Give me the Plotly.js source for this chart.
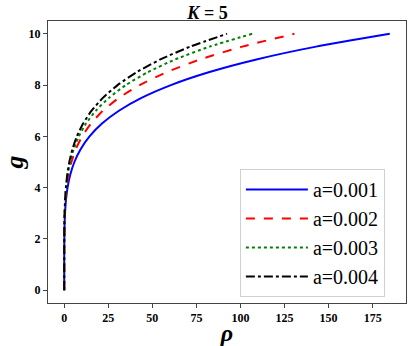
<!DOCTYPE html>
<html><head><meta charset="utf-8">
<script src="https://cdn.plot.ly/plotly-3.0.1.min.js"></script>
<style>html,body{margin:0;padding:0;background:#fff}</style>
</head><body>
<div id="chart" style="width:415px;height:346px"></div>
<script>
// g values (y) shared by all series
const gValues = [0,0.5,1,1.5,2,2.5,3,3.5,4,4.5,5,5.5,6,6.5,7,7.5,8,8.5,9,9.5,10];
// rho values (x) for each a
const rhoA001 = [0,0.00006,0.0018,0.014,0.059,0.18,0.45,0.97,1.89,3.41,5.77,9.30,14.36,21.43,31.04,43.83,60.52,81.95,109.06,142.9,184.7];
const rhoA002 = [0,0.00004,0.0013,0.0099,0.042,0.127,0.317,0.686,1.34,2.41,4.08,6.58,10.15,15.15,21.95,30.99,42.79,57.95,77.12,101.0,130.6];
const rhoA003 = [0,0.00003,0.0011,0.0081,0.034,0.104,0.259,0.56,1.09,1.97,3.33,5.37,8.29,12.37,17.92,25.31,34.94,47.32,62.97,82.5,106.6];
const rhoA004 = [0,0.00003,0.0009,0.007,0.030,0.09,0.225,0.485,0.945,1.71,2.89,4.65,7.18,10.72,15.52,21.92,30.26,40.98,54.53,71.45,92.35];
const seriesNames = ['a=0.001','a=0.002','a=0.003','a=0.004'];
const xTicks = [0,25,50,75,100,125,150,175];
const yTicks = [0,2,4,6,8,10];

const styles = [
  {color:'#0000ff', dash:'solid'},
  {color:'#ff0000', dash:'dash'},
  {color:'#008000', dash:'dot'},
  {color:'#000000', dash:'dashdot'}
];
const xs = [rhoA001, rhoA002, rhoA003, rhoA004];
const traces = xs.map((x,i)=>({
  x: x, y: gValues, type:'scatter', mode:'lines', name: seriesNames[i],
  legendgroup: 'g'+i,
  line:{color:styles[i].color, dash:styles[i].dash, width:2, shape:'spline', smoothing:0.6}
}));

const serif = 'Liberation Serif';
const layout = {
  width:415, height:346,
  margin:{l:48, r:9, t:21, b:43},
  paper_bgcolor:'#fff', plot_bgcolor:'#fff',
  showlegend:true,
  title:{text:'<b><i>K</i> = 5</b>', font:{family:serif, size:18, color:'#000'}, x:0.5, xanchor:'center', y:0.963, yanchor:'middle'},
  xaxis:{
    range:[-9.2,193.9], tickvals:xTicks, ticktext:xTicks.map(v=>'<b>'+v+'</b>'),
    showline:true, mirror:true, linecolor:'#444', linewidth:1,
    ticks:'outside', ticklen:4, tickcolor:'#444', showgrid:false, zeroline:false,
    tickfont:{family:serif, size:12, color:'#000'},
    title:{text:'<b><i>ρ</i></b>', font:{family:serif, size:24, color:'#000'}, standoff:4}
  },
  yaxis:{
    range:[-0.5,10.5], tickvals:yTicks, ticktext:yTicks.map(v=>'<b>'+v+'</b>'),
    showline:true, mirror:true, linecolor:'#444', linewidth:1,
    ticks:'outside', ticklen:4, tickcolor:'#444', showgrid:false, zeroline:false,
    tickfont:{family:serif, size:12, color:'#000'},
    title:{text:'<b><i>g</i></b>', font:{family:serif, size:26, color:'#000'}, standoff:8}
  },
  legend:{
    x:0.536, y:0.475, xanchor:'left', yanchor:'top',
    bgcolor:'rgba(255,255,255,0.9)', bordercolor:'#d0d0d0', borderwidth:1,
    font:{family:serif, size:20, color:'#000'},
    traceorder:'grouped', tracegroupgap:0, itemwidth:62
  }
};
Plotly.newPlot('chart', traces, layout, {displayModeBar:false, staticPlot:true});
</script>
</body></html>
